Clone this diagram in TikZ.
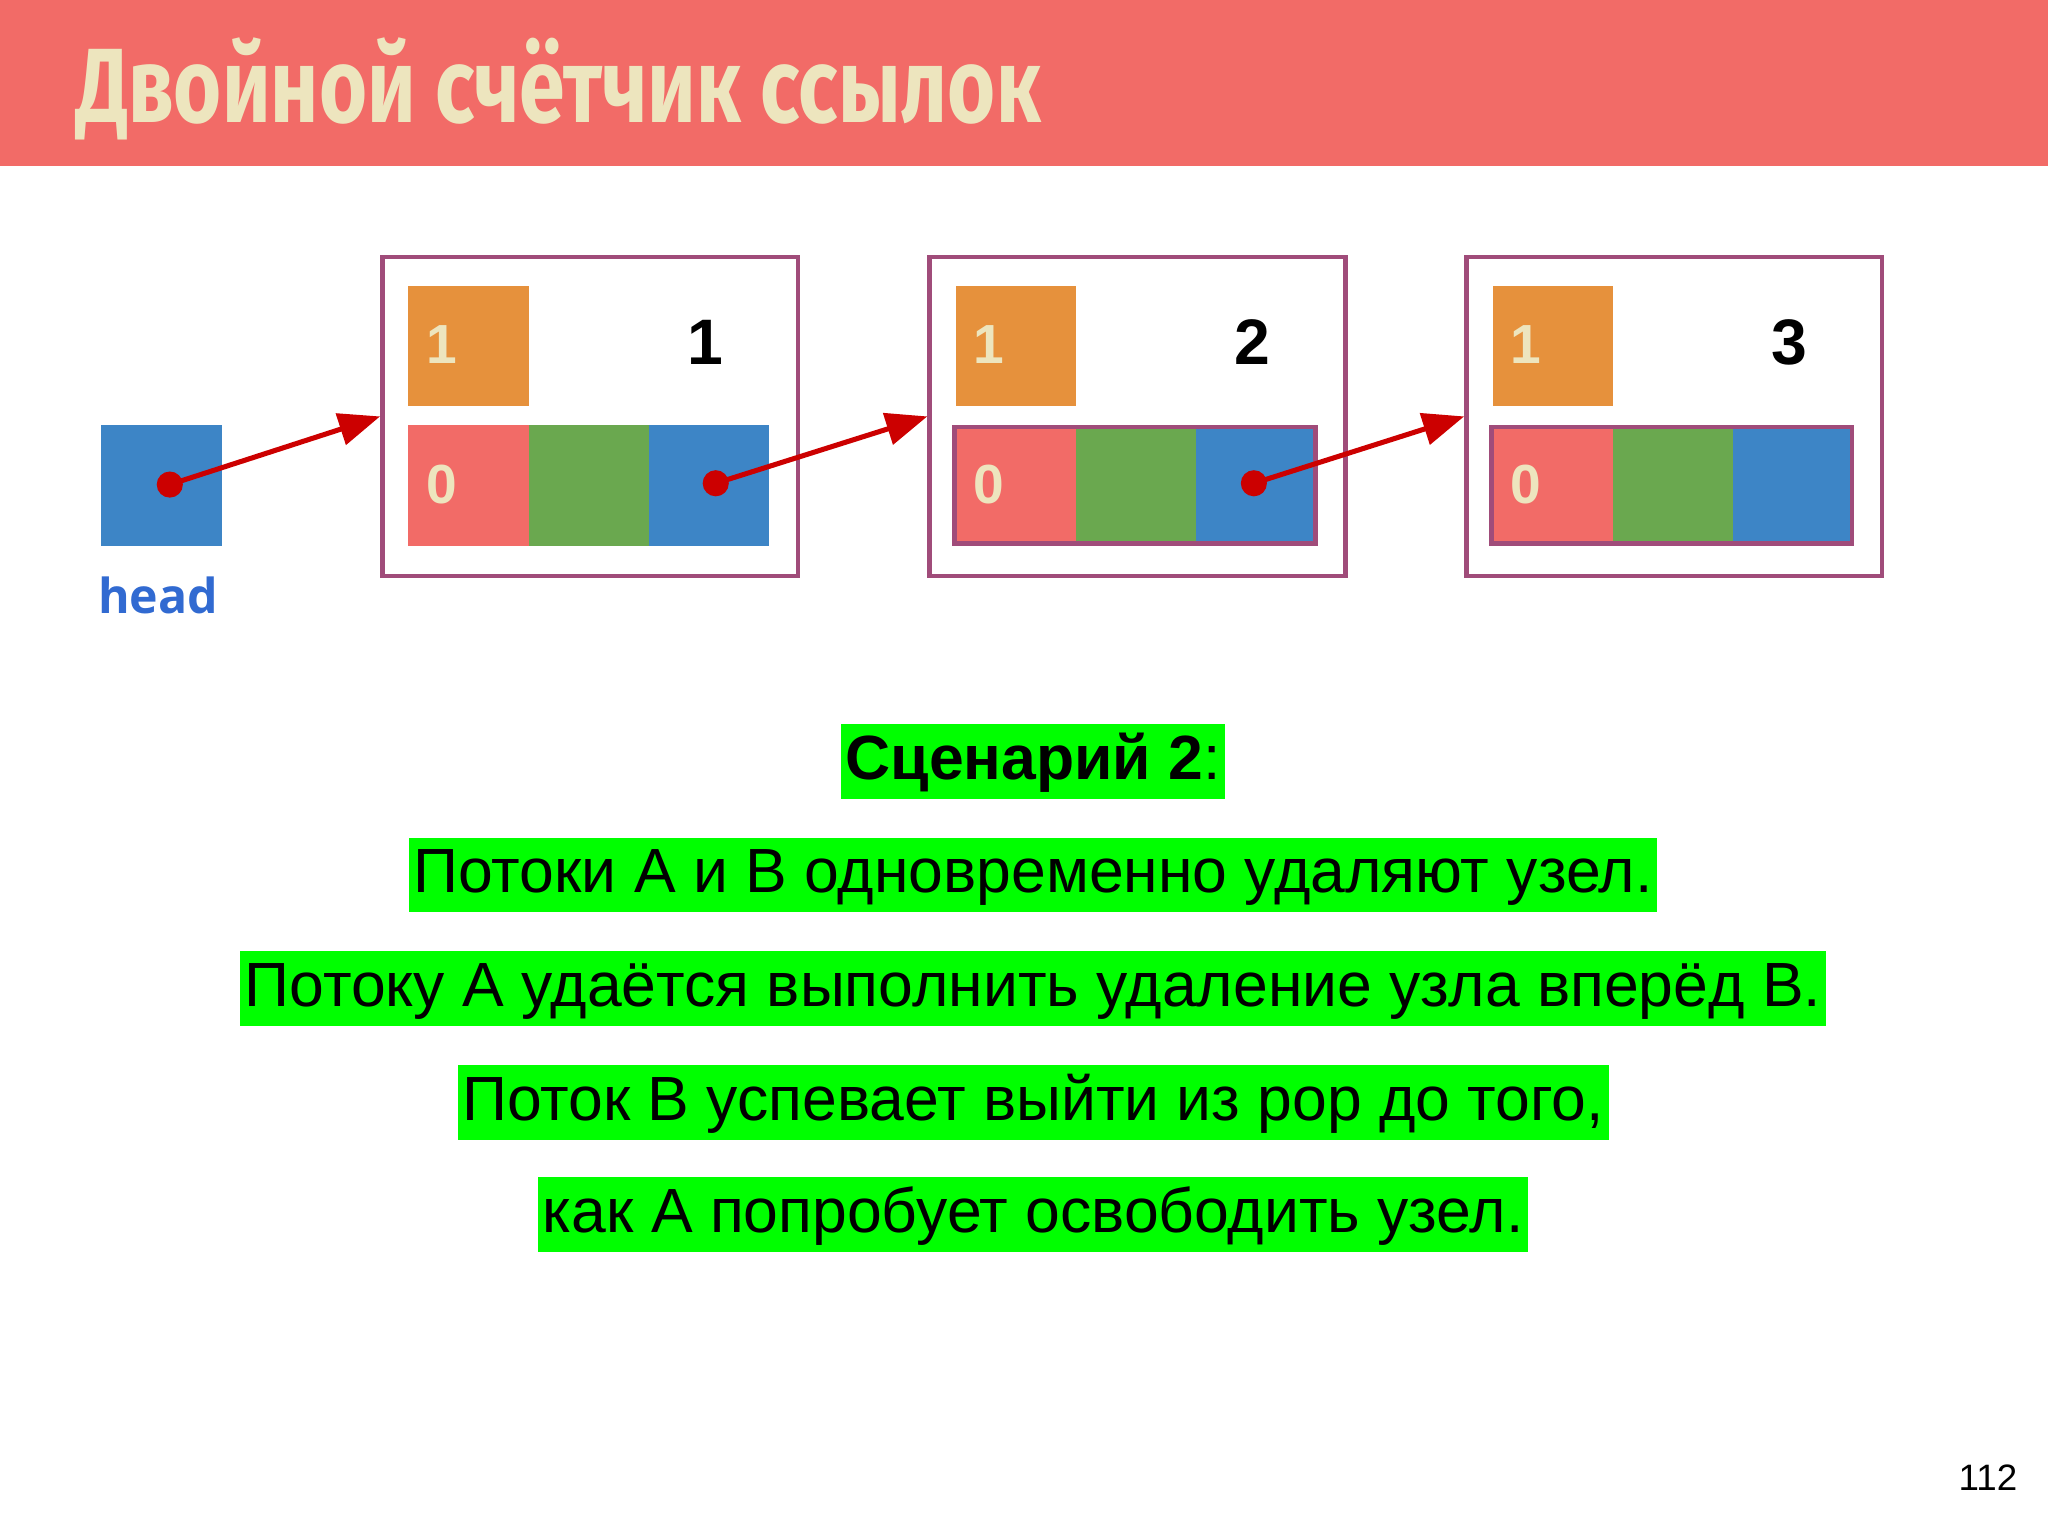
\documentclass[tikz,border=0pt]{standalone}
\usepackage{fontspec}
\setmainfont{Liberation Sans}
\newfontfamily\titlefont{Fira Sans}
\newfontfamily\headfont{Open Sans}
\usetikzlibrary{arrows.meta}
\definecolor{hdr}{HTML}{F26B67}
\definecolor{cream}{HTML}{EDE5BE}
\definecolor{frm}{HTML}{A04C7A}
\definecolor{org}{HTML}{E6913C}
\definecolor{cred}{HTML}{F26B67}
\definecolor{cgrn}{HTML}{6AA84F}
\definecolor{cblu}{HTML}{3D85C6}
\definecolor{arr}{HTML}{CC0000}
\definecolor{hl}{HTML}{00FF00}
\begin{document}
\begin{tikzpicture}[x=0.01cm,y=-0.01cm,
  cell/.style={minimum width=0.92cm,minimum height=0.92cm,inner sep=0pt,anchor=north west},
  frame/.style={draw=frm,line width=1pt},
  lnk/.style={draw=arr,line width=1.1pt,-{Triangle[length=9pt,width=7pt]}},
  dot/.style={circle,fill=arr,inner sep=0pt,minimum size=0.2cm},
  small/.style={text=cream,font=\bfseries\fontsize{12}{14}\selectfont},
  big/.style={font=\bfseries\fontsize{14}{16}\selectfont},
  line/.style={fill=hl,inner xsep=1pt,inner ysep=0.06cm,text height=0.36cm,text depth=0.09cm,font=\fontsize{13.6}{16}\selectfont}]
\useasboundingbox (0,0) rectangle (1568,1176);
\fill[hdr] (0,0) rectangle (1568,127);
\node[anchor=west,text=cream,inner sep=0pt] (title) at (58,68) {\scalebox{0.78}[1]{\titlefont\bfseries\fontsize{23}{26}\selectfont Двойной счётчик ссылок}};
% head
\node[cell,fill=cblu] (head) at (77,325) {};
\node[text=cblu!80!blue,font=\headfont\bfseries\fontsize{10.5}{12}\selectfont] (hl) at (121,456) {head};
\node[dot] (d0) at (130,371) {};
\foreach \i/\x/\n in {1/291/1,2/710/2,3/1121/3}{
  \node[frame,minimum width=3.18cm,minimum height=2.44cm,anchor=north west,inner sep=0pt] (box\i) at (\x,195) {};
  \node[cell,fill=org] (o\i) at (\x+21,218) {};
  \node[small] (on\i) at (\x+47,264) {1};
  \node[big] (n\i) at (\x+249,262) {\n};
  \node[cell,fill=cred] (r\i) at (\x+21,325) {};
  \node[cell,fill=cgrn] (g\i) at (\x+113,325) {};
  \node[cell,fill=cblu] (b\i) at (\x+205,325) {};
  \node[small] (z\i) at (\x+47,371) {0};
}
\draw[frm,line width=1pt] (731,327) rectangle (1007,416);
\draw[frm,line width=1pt] (1142,327) rectangle (1418,416);
\node[dot] (d1) at (548,370) {};
\node[dot] (d2) at (960,370) {};
\draw[lnk] (d0.center) -- (box1.west);
\draw[lnk] (d1.center) -- (box2.west);
\draw[lnk] (d2.center) -- (box3.west);
% text
\node[line] (t0) at (791,583) {\textbf{Сценарий 2}:};
\node[line] (t1) at (791,670) {Потоки А и В одновременно удаляют узел.};
\node[line] (t2) at (791,757) {Потоку А удаётся выполнить удаление узла вперёд В.};
\node[line] (t3) at (791,844) {Поток В успевает выйти из pop до того,};
\node[line] (t4) at (791,930) {как А попробует освободить узел.};
\node[font=\fontsize{8}{10}\selectfont] (pg) at (1522,1131) {112};
\end{tikzpicture}
\end{document}
